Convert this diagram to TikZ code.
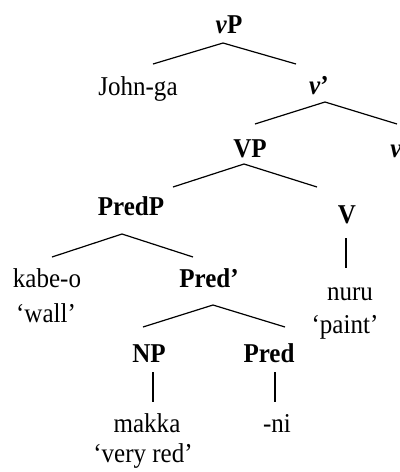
\documentclass[tikz,border=0pt]{standalone}
\usepackage{fontspec}
\setmainfont{Liberation Serif}[FakeStretch=0.92]
\begin{document}
\begin{tikzpicture}[x=0.5pt,y=-0.5pt,
  lbl/.style={anchor=base,inner sep=0pt,font=\fontsize{13.6}{16}\selectfont},
  cat/.style={lbl,font=\fontsize{13.6}{16}\selectfont\bfseries},
  branch/.style={line width=0.6pt}]
\useasboundingbox (0,0) rectangle (400,472);
% labels
\node[cat] (vP) at (229,33) {\textit{v}P};
\node[lbl] (john) at (138,95) {John-ga};
\node[cat] (vbar) at (319,94) {\textit{v}’};
\node[cat] (VP) at (250,157) {VP};
\node[cat] (vhead) at (396,157) {\textit{v}};
\node[cat] (PredP) at (131,215) {PredP};
\node[cat] (V) at (347,223) {V};
\node[lbl] (kabe) at (47,287) {kabe-o};
\node[cat] (Predbar) at (209,287) {Pred’};
\node[lbl] (nuru) at (350,300) {nuru};
\node[lbl] (wall) at (46,322) {‘wall’};
\node[lbl] (paint) at (345,333) {‘paint’};
\node[cat] (NP) at (149,362) {NP};
\node[cat] (Pred) at (269,362) {Pred};
\node[lbl] (makka) at (147,432) {makka};
\node[lbl] (ni) at (277,432) {-ni};
\node[lbl] (veryred) at (143,462) {‘very red’};
% branches
\draw[branch] ([shift={(15,-31)}]john.base) -- ([shift={(-6,10)}]vP.base) -- ([shift={(-23,-30)}]vbar.base);
\draw[branch] ([shift={(5,-33)}]VP.base) -- ([shift={(6,8)}]vbar.base) -- ([shift={(1,-33)}]vhead.base);
\draw[branch] ([shift={(42,-28)}]PredP.base) -- ([shift={(-6,7)}]VP.base) -- ([shift={(-30,-36)}]V.base);
\draw[branch] ([shift={(5,-30)}]kabe.base) -- ([shift={(-9,19)}]PredP.base) -- ([shift={(-16,-30)}]Predbar.base);
\draw[branch] ([shift={(-1,15)}]V.base) -- ([shift={(-4,-32)}]nuru.base);
\draw[branch] ([shift={(-6,-35)}]NP.base) -- ([shift={(4,18)}]Predbar.base) -- ([shift={(16,-35)}]Pred.base);
\draw[branch] ([shift={(4,10)}]NP.base) -- ([shift={(6,-30)}]makka.base);
\draw[branch] ([shift={(6,10)}]Pred.base) -- ([shift={(-2,-30)}]ni.base);
\end{tikzpicture}
\end{document}
